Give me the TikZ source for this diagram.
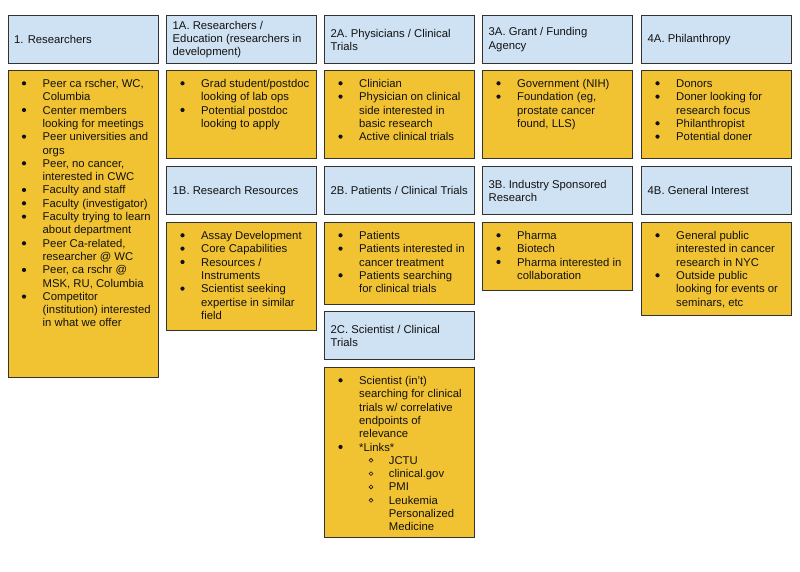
\documentclass[tikz,border=0pt]{standalone}
\usepackage{fontspec}
\setmainfont{Liberation Sans}
\usetikzlibrary{calc}
\definecolor{hblue}{HTML}{CFE2F3}
\definecolor{yfill}{HTML}{F1C232}
\definecolor{bordc}{HTML}{333333}
\definecolor{txt}{HTML}{111111}
\newcommand{\bu}{\hspace*{18.5pt}}
\newcommand{\nb}{\hspace*{18.5pt}}
\newcommand{\sbu}{\hspace*{48.2pt}}
\newcommand{\snb}{\hspace*{48.2pt}}
\newcommand{\bulletsin}[2]{\foreach \i in {#2} \fill[txt] ($(#1.north west)+(16.5,{13.3+13.33*\i})$) circle (2.1pt);}
\newcommand{\ringsin}[2]{\foreach \i in {#2} \draw[txt, line width=0.6pt] ($(#1.north west)+(47,{13.3+13.33*\i})$) circle (1.9pt);}
\tikzset{
  hdr/.style={draw=bordc, fill=hblue, line width=1.3pt, minimum width=150pt, minimum height=48pt, anchor=north west, inner sep=0pt},
  ybox/.style={draw=bordc, fill=yfill, line width=1.3pt, minimum width=150pt, anchor=north west, inner sep=0pt},
  htext/.style={anchor=west, align=left, inner sep=0pt, text=txt, font=\fontsize{11.3}{13.3}\selectfont},
  items/.style={anchor=north west, inner sep=0pt, text=txt, font=\fontsize{11.3}{13.3}\selectfont}
}
\begin{document}
\begin{tikzpicture}[x=1pt,y=-1pt]
\useasboundingbox[fill=white] (0,0) rectangle (800,571);
% ---------- headers row A ----------
\node[hdr] (h1)  at (7.5,15) {};
\node[hdr] (h1a) at (166,15) {};
\node[hdr] (h2a) at (324,15) {};
\node[hdr] (h3a) at (482,15) {};
\node[hdr] (h4a) at (641,15) {};
\node[htext] (th1)  at ([xshift=6.5pt]h1.west)  {1. Researchers};
\node[htext] (th1a) at ([xshift=6.5pt]h1a.west) {1A. Researchers /\\Education (researchers in\\development)};
\node[htext] (th2a) at ([xshift=6.5pt]h2a.west) {2A. Physicians / Clinical\\Trials};
\node[htext] (th3a) at ([xshift=6.5pt]h3a.west) {3A. Grant / Funding\\Agency};
\node[htext] (th4a) at ([xshift=6.5pt]h4a.west) {4A. Philanthropy};
% ---------- yellow row A ----------
\node[ybox, minimum height=307pt] (y1)  at (7.5,70) {};
\node[ybox, minimum height=88pt]  (y1a) at (166,70) {};
\node[ybox, minimum height=88pt]  (y2a) at (324,70) {};
\node[ybox, minimum height=88pt]  (y3a) at (482,70) {};
\node[ybox, minimum height=88pt]  (y4a) at (641,70) {};
\node[items] (t1) at ([xshift=16.5pt,yshift=-8pt]y1.north west) {\begin{tabular}{@{}l@{}}
\bu Peer ca rscher, WC,\\ \nb Columbia\\
\bu Center members\\ \nb looking for meetings\\
\bu Peer universities and\\ \nb orgs\\
\bu Peer, no cancer,\\ \nb interested in CWC\\
\bu Faculty and staff\\
\bu Faculty (investigator)\\
\bu Faculty trying to learn\\ \nb about department\\
\bu Peer Ca-related,\\ \nb researcher @ WC\\
\bu Peer, ca rschr @\\ \nb MSK, RU, Columbia\\
\bu Competitor\\ \nb (institution) interested\\ \nb in what we offer
\end{tabular}};
\bulletsin{y1}{0,2,4,6,8,9,10,12,14,16}
\node[items] (t1a) at ([xshift=16.5pt,yshift=-8pt]y1a.north west) {\begin{tabular}{@{}l@{}}
\bu Grad student/postdoc\\ \nb looking of lab ops\\
\bu Potential postdoc\\ \nb looking to apply
\end{tabular}};
\bulletsin{y1a}{0,2}
\node[items] (t2a) at ([xshift=16.5pt,yshift=-8pt]y2a.north west) {\begin{tabular}{@{}l@{}}
\bu Clinician\\
\bu Physician on clinical\\ \nb side interested in\\ \nb basic research\\
\bu Active clinical trials
\end{tabular}};
\bulletsin{y2a}{0,1,4}
\node[items] (t3a) at ([xshift=16.5pt,yshift=-8pt]y3a.north west) {\begin{tabular}{@{}l@{}}
\bu Government (NIH)\\
\bu Foundation (eg,\\ \nb prostate cancer\\ \nb found, LLS)
\end{tabular}};
\bulletsin{y3a}{0,1}
\node[items] (t4a) at ([xshift=16.5pt,yshift=-8pt]y4a.north west) {\begin{tabular}{@{}l@{}}
\bu Donors\\
\bu Doner looking for\\ \nb research focus\\
\bu Philanthropist\\
\bu Potential doner
\end{tabular}};
\bulletsin{y4a}{0,1,3,4}
% ---------- headers row B ----------
\node[hdr] (h1b) at (166,166) {};
\node[hdr] (h2b) at (324,166) {};
\node[hdr] (h3b) at (482,166) {};
\node[hdr] (h4b) at (641,166) {};
\node[htext] (th1b) at ([xshift=6.5pt]h1b.west) {1B. Research Resources};
\node[htext] (th2b) at ([xshift=6.5pt]h2b.west) {2B. Patients / Clinical Trials};
\node[htext] (th3b) at ([xshift=6.5pt]h3b.west) {3B. Industry Sponsored\\Research};
\node[htext] (th4b) at ([xshift=6.5pt]h4b.west) {4B. General Interest};
% ---------- yellow row B ----------
\node[ybox, minimum height=108pt] (y1b) at (166,222) {};
\node[ybox, minimum height=82pt]  (y2b) at (324,222) {};
\node[ybox, minimum height=68pt]  (y3b) at (482,222) {};
\node[ybox, minimum height=93pt]  (y4b) at (641,222) {};
\node[items] (t1b) at ([xshift=16.5pt,yshift=-8pt]y1b.north west) {\begin{tabular}{@{}l@{}}
\bu Assay Development\\
\bu Core Capabilities\\
\bu Resources /\\ \nb Instruments\\
\bu Scientist seeking\\ \nb expertise in similar\\ \nb field
\end{tabular}};
\bulletsin{y1b}{0,1,2,4}
\node[items] (t2b) at ([xshift=16.5pt,yshift=-8pt]y2b.north west) {\begin{tabular}{@{}l@{}}
\bu Patients\\
\bu Patients interested in\\ \nb cancer treatment\\
\bu Patients searching\\ \nb for clinical trials
\end{tabular}};
\bulletsin{y2b}{0,1,3}
\node[items] (t3b) at ([xshift=16.5pt,yshift=-8pt]y3b.north west) {\begin{tabular}{@{}l@{}}
\bu Pharma\\
\bu Biotech\\
\bu Pharma interested in\\ \nb collaboration
\end{tabular}};
\bulletsin{y3b}{0,1,2}
\node[items] (t4b) at ([xshift=16.5pt,yshift=-8pt]y4b.north west) {\begin{tabular}{@{}l@{}}
\bu General public\\ \nb interested in cancer\\ \nb research in NYC\\
\bu Outside public\\ \nb looking for events or\\ \nb seminars, etc
\end{tabular}};
\bulletsin{y4b}{0,3}
% ---------- 2C ----------
\node[hdr] (h2c) at (324,311) {};
\node[htext] (th2c) at ([xshift=6.5pt]h2c.west) {2C. Scientist / Clinical\\Trials};
\node[ybox, minimum height=170pt] (y2c) at (324,367) {};
\node[items] (t2c) at ([xshift=16.5pt,yshift=-8pt]y2c.north west) {\begin{tabular}{@{}l@{}}
\bu Scientist (in't)\\ \nb searching for clinical\\ \nb trials w/ correlative\\ \nb endpoints of\\ \nb relevance\\
\bu *Links*\\
\sbu JCTU\\
\sbu clinical.gov\\
\sbu PMI\\
\sbu Leukemia\\ \snb Personalized\\ \snb Medicine
\end{tabular}};
\bulletsin{y2c}{0,5}
\ringsin{y2c}{6,7,8,9}
\end{tikzpicture}
\end{document}
